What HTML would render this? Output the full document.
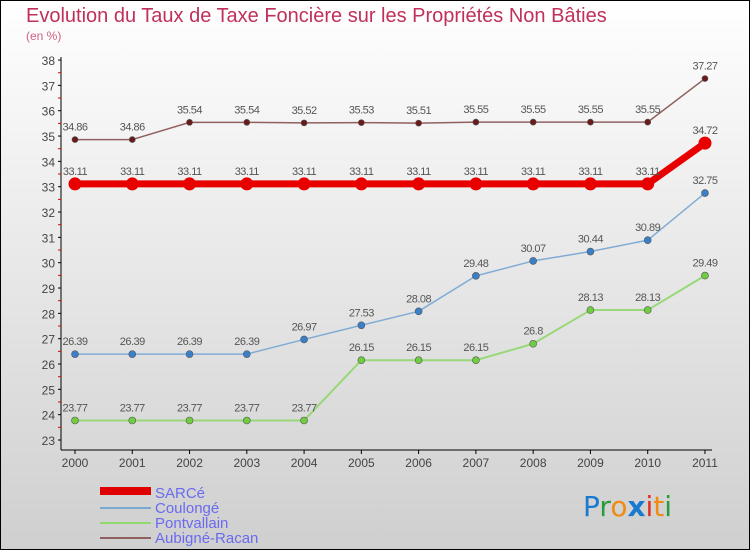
<!DOCTYPE html>
<html><head><meta charset="utf-8"><style>
body{margin:0}
svg{display:block;font-family:"Liberation Sans",sans-serif}
</style></head><body>
<svg width="750" height="550" xmlns="http://www.w3.org/2000/svg">
<defs><linearGradient id="bg" x1="0" y1="0" x2="0" y2="1"><stop offset="0" stop-color="#ffffff"/><stop offset="1" stop-color="#cfcfcf"/></linearGradient></defs>
<rect x="0.5" y="0.5" width="749" height="549" fill="url(#bg)" stroke="#000"/>
<text x="26" y="22" font-size="20" fill="#c0305a">Evolution du Taux de Taxe Foncière sur les Propriétés Non Bâties</text>
<text x="26" y="40" font-size="12" fill="#d06080">(en %)</text>
<g id="axes"></g>
<g id="series"></g>
<g>
<rect x="100" y="487" width="51" height="8" fill="#e00000"/>
<text x="155" y="498" font-size="15" fill="#6a6af0">SARCé</text>
<rect x="100" y="507" width="51" height="2" fill="#7aaad0"/>
<text x="155" y="513" font-size="15" fill="#6a6af0">Coulongé</text>
<rect x="100" y="522" width="51" height="2" fill="#90d870"/>
<text x="155" y="528" font-size="15" fill="#6a6af0">Pontvallain</text>
<rect x="100" y="537" width="51" height="2" fill="#906060"/>
<text x="155" y="543" font-size="15" fill="#6a6af0">Aubigné-Racan</text>
</g>
<g font-size="28" font-family="'DejaVu Sans',sans-serif">
<text x="583" y="516"><tspan fill="#1a7ad0">P</tspan><tspan fill="#2a9a3a">r</tspan><tspan fill="#f08a10">o</tspan><tspan fill="#1a7ad0" font-weight="bold">x</tspan><tspan fill="#e03020">i</tspan><tspan fill="#f08a10">t</tspan><tspan fill="#2a9a3a">i</tspan></text>
</g>
</svg>
<script>
const years=["2000","2001","2002","2003","2004","2005","2006","2007","2008","2009","2010","2011"];
const yTicks=[23,24,25,26,27,28,29,30,31,32,33,34,35,36,37,38];
const sarce=[33.11,33.11,33.11,33.11,33.11,33.11,33.11,33.11,33.11,33.11,33.11,34.72];
const coulonge=[26.39,26.39,26.39,26.39,26.97,27.53,28.08,29.48,30.07,30.44,30.89,32.75];
const pontvallain=[23.77,23.77,23.77,23.77,23.77,26.15,26.15,26.15,26.8,28.13,28.13,29.49];
const aubigne=[34.86,34.86,35.54,35.54,35.52,35.53,35.51,35.55,35.55,35.55,35.55,37.27];
const NS="http://www.w3.org/2000/svg";
const x=i=>75+i*57.27;
const y=v=>440-(v-23)*25.33;
function mk(p,t,a){const e=document.createElementNS(NS,t);for(const k in a)e.setAttribute(k,a[k]);p.appendChild(e);return e;}
const ax=document.getElementById('axes');
let l=mk(ax,'line',{x1:61,y1:57,x2:61,y2:450,stroke:'#000'});


l=mk(ax,'line',{x1:61,y1:450,x2:712,y2:450,stroke:'#000'});


yTicks.forEach((v,i)=>{
 mk(ax,'line',{x1:58,x2:61,y1:y(v),y2:y(v),stroke:'#000'});
 if(i<yTicks.length-1)mk(ax,'line',{x1:58,x2:61,y1:y(v+0.5),y2:y(v+0.5),stroke:'#e00000'});
 const t=mk(ax,'text',{x:55,y:y(v)+5,'text-anchor':'end','font-size':12,fill:'#444'});
 t.textContent=v;
 
 
});
years.forEach((yr,i)=>{
 mk(ax,'line',{x1:x(i),x2:x(i),y1:450,y2:454,stroke:'#000'});
 const t=mk(ax,'text',{x:x(i),y:467,'text-anchor':'middle','font-size':12,fill:'#444'});
 t.textContent=yr;
 
 
});
const sg=document.getElementById('series');
function draw(vals,color,width,r,dot,name){
 const g=mk(sg,'g',{});
 
 
 mk(g,'polyline',{points:vals.map((v,i)=>x(i)+','+y(v)).join(' '),fill:'none',stroke:color,'stroke-width':width,'stroke-linejoin':'round'});
 vals.forEach((v,i)=>{
  const c=mk(g,'circle',{cx:x(i),cy:y(v),r:r,fill:dot,stroke:'#555','stroke-width':r>5?0:0.6});
  
  
  const t=mk(g,'text',{x:x(i),y:y(v)-9,'text-anchor':'middle','font-size':11,fill:'#555','letter-spacing':'-0.5'});
  t.textContent=v;
  
  
 });
}
draw(aubigne,'#906060',1.5,3,'#6a1a1a','aubigne-racan');
draw(pontvallain,'#98d878',2,3.5,'#70cc40','pontvallain');
draw(coulonge,'#80acd4',1.5,3.5,'#3a80c8','coulonge');
draw(sarce,'#e80000',7,6.5,'#e80000','sarce');
</script>
</body></html>
